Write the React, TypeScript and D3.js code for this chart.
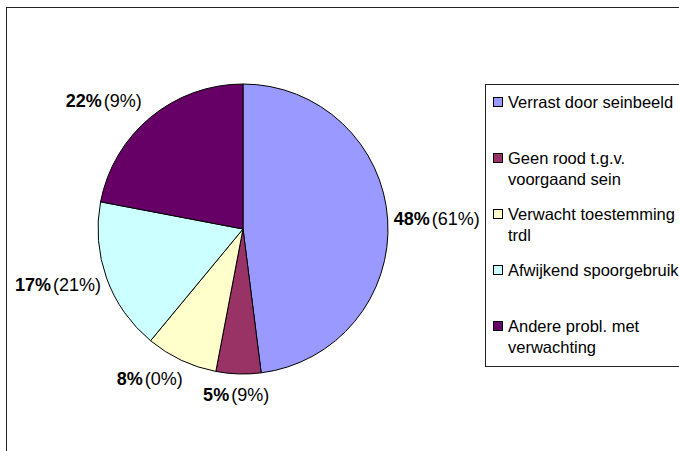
import * as d3 from 'd3';
import * as React from 'react';

const categories = [
  'Verrast door seinbeeld',
  'Geen rood t.g.v. voorgaand sein',
  'Verwacht toestemming trdl',
  'Afwijkend spoorgebruik',
  'Andere probl. met verwachting',
];
// legend lines as Excel wrapped them
const legendLines = [
  ['Verrast door seinbeeld'],
  ['Geen rood t.g.v.', 'voorgaand sein'],
  ['Verwacht toestemming', 'trdl'],
  ['Afwijkend spoorgebruik'],
  ['Andere probl. met', 'verwachting'],
];
const shares = [48, 5, 8, 17, 22];
const otherShares = [61, 9, 0, 21, 9];
const colors = ['#9999FF', '#993366', '#FFFFCC', '#CCFFFF', '#660066'];

const W = 679;
const H = 451;
const FONT = 'Arial, "Liberation Sans", sans-serif';

type Item = { name: string; value: number; other: number; color: string };

const data: Item[] = categories.map((name, i) => ({
  name,
  value: shares[i],
  other: otherShares[i],
  color: colors[i],
}));

export default function App() {
  const cx = 243;
  const cy = 229;
  const radius = 145;

  const pie = React.useMemo(
    () => d3.pie<Item>().sort(null).value((d) => d.value)(data),
    [],
  );
  const arcGen = d3.arc<d3.PieArcDatum<Item>>().innerRadius(0).outerRadius(radius);

  // label placement: box pushed outward from the mid angle
  const labels = pie.map((p) => {
    const a = (p.startAngle + p.endAngle) / 2;
    const s = Math.sin(a);
    const c = Math.cos(a);
    const hw = p.data.value >= 10 ? 43 : 34;
    const hh = 15;
    const g = 6;
    const sx = Math.sign(s) * Math.min(1, Math.abs(s) * 2);
    return {
      x: (radius + g) * s + hw * sx,
      y: -(radius + g) * c - hh * c,
      d: p.data,
    };
  });

  const legendX = 485;
  const legendY = 84;
  const rowStep = 56;
  const lineH = 21;

  return (
    <svg
      width={W}
      height={H}
      style={{ display: 'block', position: 'absolute', left: 0, top: 0 }}
      fontFamily={FONT}
    >
      <rect x={0} y={0} width={W} height={H} fill="#fff" />
      <rect x={6.5} y={7.5} width={W + 20} height={H + 20} fill="none" stroke="#222" strokeWidth={1} />

      <g transform={`translate(${cx},${cy})`}>
        {pie.map((p, i) => (
          <path key={i} d={arcGen(p) || ''} fill={p.data.color} stroke="#000" strokeWidth={1} />
        ))}
        {labels.map((l, i) => (
          <text
            key={i}
            x={l.x}
            y={l.y}
            textAnchor="middle"
            dominantBaseline="central"
            fontSize={18}
            fill="#000"
          >
            <tspan fontWeight="bold">{l.d.value}%</tspan>
            <tspan dx={2}>({l.d.other}%)</tspan>
          </text>
        ))}
      </g>

      <rect
        x={legendX + 0.5}
        y={legendY + 0.5}
        width={W}
        height={282}
        fill="#fff"
        stroke="#222"
        strokeWidth={1}
      />
      {legendLines.map((lines, i) => {
        const y0 = legendY + 18 + i * rowStep;
        return (
          <g key={i}>
            <rect
              x={493.5}
              y={y0 - 4.5}
              width={9}
              height={9}
              fill={colors[i]}
              stroke="#000"
              strokeWidth={1}
            />
            {lines.map((t, j) => (
              <text
                key={j}
                x={508}
                y={y0 + j * lineH}
                dominantBaseline="central"
                fontSize={16.5}
                fill="#000"
              >
                {t}
              </text>
            ))}
          </g>
        );
      })}
    </svg>
  );
}
